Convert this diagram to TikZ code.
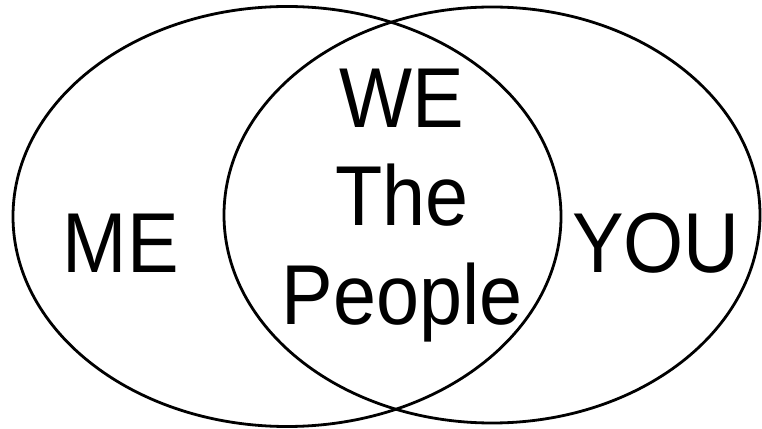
\documentclass[tikz,border=0pt]{standalone}
\usepackage{fontspec}
\setmainfont[FakeStretch=0.91]{Liberation Sans}
\usepackage{tikz}
\tikzset{
  set/.style={draw=black, line width=2.8pt},
  big/.style={font=\fontsize{85}{98.5}\selectfont, inner sep=0pt, align=center},
}

\begin{document}
\begin{tikzpicture}[x=1pt, y=1pt]
    \useasboundingbox (0,0) rectangle (762,428);
    \draw[set] (287,211.5) ellipse [x radius=274, y radius=210];
    \draw[set] (492,213) ellipse [x radius=268, y radius=208];
    \node[big, anchor=base] (me) at (121,155) {ME};
    \node[big, anchor=base] (you) at (656,155) {YOU};
    \node[big] (we) at (402,222.8) {WE\\The\\People};
\end{tikzpicture}
\end{document}
